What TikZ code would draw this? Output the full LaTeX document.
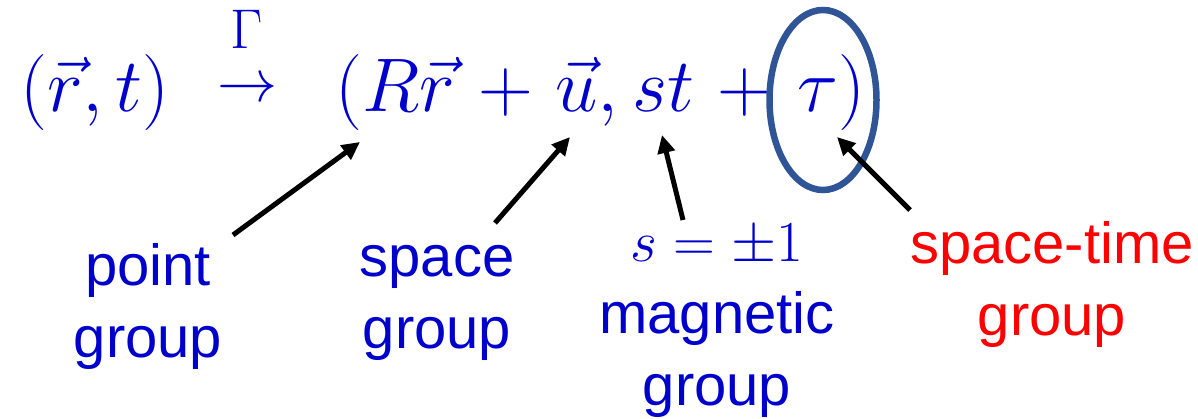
\RequirePackage{fix-cm}
\documentclass[tikz,border=0pt]{standalone}
\usepackage[no-math]{fontspec}
\setmainfont{Liberation Sans}
\usepackage{tikz}
\usetikzlibrary{arrows.meta, shapes.geometric}
\definecolor{colEqBlue}  {HTML}{0000CC}
\definecolor{colTimeRed} {HTML}{FF0000}
\definecolor{colRing}    {HTML}{2F5597}
\tikzset{
  eq/.style={
    inner sep=0pt, text=colEqBlue,
    font=\fontsize{76}{90}\selectfont
  },
  lbl/.style={
    inner sep=0pt, align=center, text=colEqBlue,
    font=\fontsize{58}{72}\selectfont
  },
  ringmark/.style={
    draw=colRing, ellipse, line width=6.5pt,
    minimum width=107pt, minimum height=180pt
  },
  pointer/.style={
    -{Triangle[length=18pt,width=17pt]},
    line width=5pt, draw=black
  }
}

\begin{document}
\begin{tikzpicture}[x=1pt, y=-1pt]
  \useasboundingbox (0,0) rectangle (1198,419);
  % mapping (r,t) -> (Rr+u, st+tau)
  \node[eq, anchor=base west] (lhs) at (20,112) {$(\vec{r},t)$};
  \node[eq, font=\fontsize{60}{70}\selectfont] (map) at (247,90) {$\rightarrow$};
  \node[eq, font=\fontsize{56}{66}\selectfont] (gam) at (247,29) {$\Gamma$};
  \node[eq, anchor=base west] (rR)    at (335,112) {$(R\vec{r}$};
  \node[eq, anchor=base]      (plusA) at (506,112) {$+$};
  \node[eq, anchor=base west] (uvec)  at (555,112) {$\vec{u},$};
  \node[eq, anchor=base west] (st)    at (632,112) {$st$};
  \node[eq, anchor=base]      (plusB) at (745,112) {$+$};
  \node[eq, anchor=base west] (tau)   at (797,112) {$\tau)$};
  \node[ringmark] (ring) at (823,100) {};
  % labels (base = last line)
  \node[lbl, anchor=base] (pointlbl) at (148,357) {point\\group};
  \node[lbl, anchor=base] (spacelbl) at (437,348) {space\\group};
  \node[lbl, anchor=base] (maglbl)   at (717,405) {$s=\pm1$\\magnetic\\group};
  \node[lbl, anchor=base, text=colTimeRed] (stlbl) at (1052,335) {space-time\\group};
  \draw[pointer] ([xshift=85pt,yshift=122pt]pointlbl.base)  -- ([xshift=25pt,yshift=-30pt]rR.base west);
  \draw[pointer] ([xshift=58pt,yshift=125pt]spacelbl.base)  -- ([xshift=15pt,yshift=-25pt]uvec.base west);
  \draw[pointer] ([xshift=-34pt,yshift=185pt]maglbl.base)   -- ([xshift=30pt,yshift=-23pt]st.base west);
  \draw[pointer] ([xshift=-142pt,yshift=125pt]stlbl.base)   -- ([xshift=40pt,yshift=-25pt]tau.base west);
\end{tikzpicture}
\end{document}
